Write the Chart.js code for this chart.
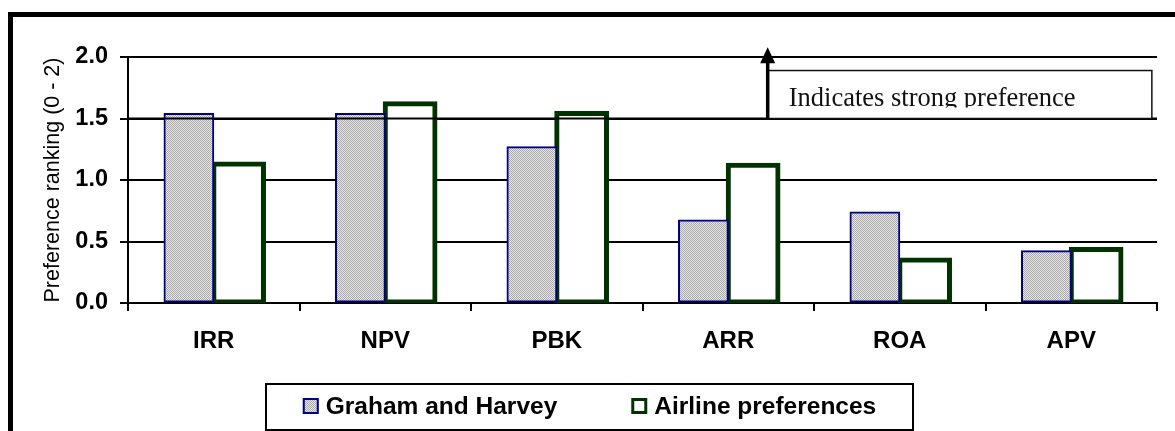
<!DOCTYPE html>
<html>
<head>
<meta charset="utf-8">
<title>Capital budgeting technique preferences</title>
<script src="https://cdn.jsdelivr.net/npm/chart.js@4.4.1/dist/chart.umd.min.js"></script>
<style>
  html, body { margin: 0; padding: 0; background: #ffffff; }
  #wrap { width: 1175px; height: 431px; position: relative; }
</style>
</head>
<body>
<div id="wrap"><canvas id="chart" width="1175" height="431"></canvas></div>
<script>
// Capital budgeting techniques
const categories = ['IRR', 'NPV', 'PBK', 'ARR', 'ROA', 'APV'];

// Preference ranking (0 - 2)
const grahamHarvey = [1.54, 1.54, 1.27, 0.675, 0.74, 0.425];
const airlinePrefs = [1.13, 1.62, 1.54, 1.12, 0.35, 0.435];

const seriesLabels = ['Graham and Harvey', 'Airline preferences'];
const yTicks = [0.0, 0.5, 1.0, 1.5, 2.0];

// "Strong preference" marker: threshold, arrow and caption box (data units)
const strongThreshold = 1.5;
const arrowAt = 3.23;        // category-axis position of the arrow
const arrowTop = 2.08;
const noteBoxTop = 1.89;
const noteBoxRight = 5.47;
const noteText = 'Indicates strong preference';

const SANS = '"Liberation Sans", Arial, sans-serif';
const SERIF = '"Liberation Serif", "Times New Roman", serif';

// Dotted grey fill for the survey series
function makeDotPattern() {
  const c = document.createElement('canvas');
  c.width = 2; c.height = 2;
  const g = c.getContext('2d');
  g.fillStyle = '#e8e8e8'; g.fillRect(0, 0, 2, 2);
  g.fillStyle = '#a8a8a8'; g.fillRect(0, 0, 1, 1); g.fillRect(1, 1, 1, 1);
  return g.createPattern(c, 'repeat');
}
const dotFill = makeDotPattern();

// Outer frame (left and top edges)
const framePlugin = {
  id: 'frame',
  beforeDraw(chart) {
    const ctx = chart.ctx;
    ctx.save();
    ctx.fillStyle = '#ffffff';
    ctx.fillRect(0, 0, chart.width, chart.height);
    ctx.strokeStyle = '#000000';
    ctx.lineWidth = 5;
    ctx.beginPath();
    ctx.moveTo(10.5, 12);
    ctx.lineTo(10.5, chart.height);
    ctx.moveTo(8, 14.5);
    ctx.lineTo(chart.width, 14.5);
    ctx.stroke();
    ctx.restore();
  }
};

// Threshold line, arrow and caption drawn over the bars
const notePlugin = {
  id: 'strongNote',
  afterDatasetsDraw(chart) {
    const ctx = chart.ctx;
    const x = chart.scales.x, y = chart.scales.y;
    const area = chart.chartArea;
    const yT = y.getPixelForValue(strongThreshold);
    const ax = x.getPixelForValue(arrowAt);
    const aTop = y.getPixelForValue(arrowTop);
    const bTop = y.getPixelForValue(noteBoxTop);
    const bRight = x.getPixelForValue(noteBoxRight);
    ctx.save();
    // threshold line
    ctx.strokeStyle = '#000000';
    ctx.lineWidth = 2;
    ctx.beginPath();
    ctx.moveTo(area.left, yT);
    ctx.lineTo(area.right, yT);
    ctx.stroke();
    // caption box
    ctx.fillStyle = '#ffffff';
    ctx.fillRect(ax, bTop, bRight - ax, yT - bTop);
    ctx.lineWidth = 1.5;
    ctx.strokeStyle = '#111111';
    ctx.strokeRect(ax, bTop, bRight - ax, yT - bTop);
    // caption text (clipped inside the box)
    ctx.save();
    ctx.beginPath();
    ctx.rect(ax, bTop, bRight - ax, 37);
    ctx.clip();
    ctx.fillStyle = '#111111';
    ctx.font = '26.5px ' + SERIF;
    ctx.textAlign = 'left';
    ctx.textBaseline = 'alphabetic';
    ctx.fillText(noteText, ax + 21, bTop + 35);
    ctx.restore();
    // arrow
    ctx.strokeStyle = '#000000';
    ctx.lineWidth = 3.5;
    ctx.beginPath();
    ctx.moveTo(ax, yT);
    ctx.lineTo(ax, aTop + 14);
    ctx.stroke();
    ctx.fillStyle = '#000000';
    ctx.beginPath();
    ctx.moveTo(ax, aTop);
    ctx.lineTo(ax - 7.5, aTop + 16);
    ctx.lineTo(ax + 7.5, aTop + 16);
    ctx.closePath();
    ctx.fill();
    ctx.restore();
  }
};

// Boxed legend under the axis
const boxedLegend = {
  id: 'boxedLegend',
  afterDraw(chart) {
    const ctx = chart.ctx;
    const ds = chart.data.datasets;
    const font = 'bold 24.5px ' + SANS;
    const mark = 16, markGap = 7, itemGap = 74;
    const boxL = 266, boxT = 384, boxW = 647, boxH = 46;
    ctx.save();
    ctx.font = font;
    const widths = ds.map(d => ctx.measureText(d.label).width);
    const content = widths.reduce((s, w) => s + mark + markGap + w, 0) + itemGap * (ds.length - 1);
    ctx.lineWidth = 2;
    ctx.strokeStyle = '#000000';
    ctx.strokeRect(boxL, boxT, boxW, boxH);
    let cx = boxL + (boxW - content) / 2;
    const midY = 406;
    ds.forEach((d, i) => {
      const top = midY - mark / 2;
      ctx.fillStyle = d.backgroundColor;
      ctx.fillRect(cx, top, mark, mark);
      const bw = Math.min(d.borderWidth, 3);
      ctx.lineWidth = bw;
      ctx.strokeStyle = d.borderColor;
      ctx.strokeRect(cx + bw / 2, top + bw / 2, mark - bw, mark - bw);
      ctx.fillStyle = '#000000';
      ctx.textAlign = 'left';
      ctx.textBaseline = 'middle';
      ctx.fillText(d.label, cx + mark + markGap, midY + 1);
      cx += mark + markGap + widths[i] + itemGap;
    });
    ctx.restore();
  }
};

new Chart(document.getElementById('chart'), {
  type: 'bar',
  data: {
    labels: categories,
    datasets: [
      {
        label: seriesLabels[0],
        data: grahamHarvey,
        backgroundColor: dotFill,
        borderColor: '#000080',
        borderWidth: 2,
        borderSkipped: false,
        inflateAmount: 0.5
      },
      {
        label: seriesLabels[1],
        data: airlinePrefs,
        backgroundColor: '#ffffff',
        borderColor: '#003300',
        borderWidth: 5,
        borderSkipped: false,
        inflateAmount: 2.5
      }
    ]
  },
  options: {
    responsive: false,
    animation: false,
    devicePixelRatio: 1,
    categoryPercentage: 0.58,
    barPercentage: 1.0,
    layout: { padding: { top: 57, right: 18, bottom: 68, left: 0 } },
    plugins: {
      legend: { display: false },
      tooltip: { enabled: false }
    },
    scales: {
      x: {
        grid: {
          offset: true,
          drawOnChartArea: false,
          drawTicks: true,
          tickLength: 8,
          color: '#000000',
          lineWidth: 2
        },
        border: { display: true, color: '#000000', width: 2 },
        ticks: {
          color: '#000000',
          font: { family: SANS, size: 24, weight: 'bold' },
          padding: 16,
          maxRotation: 0
        },
        afterFit(scale) { scale.height = 60; }
      },
      y: {
        min: 0,
        max: 2,
        afterBuildTicks(scale) { scale.ticks = yTicks.map(v => ({ value: v })); },
        grid: {
          color: '#000000',
          lineWidth: 2,
          drawTicks: true,
          tickLength: 8
        },
        border: { display: true, color: '#000000', width: 2 },
        ticks: {
          color: '#000000',
          font: { family: SANS, size: 23.5, weight: 'bold' },
          padding: 12,
          callback: v => Number(v).toFixed(1)
        },
        title: {
          display: true,
          text: 'Preference ranking (0 - 2)',
          color: '#000000',
          font: { family: SANS, size: 21.5, weight: 'normal' },
          padding: { top: 40, bottom: 0 }
        },
        afterFit(scale) { scale.width = 128; }
      }
    }
  },
  plugins: [framePlugin, notePlugin, boxedLegend]
});
</script>
</body>
</html>
